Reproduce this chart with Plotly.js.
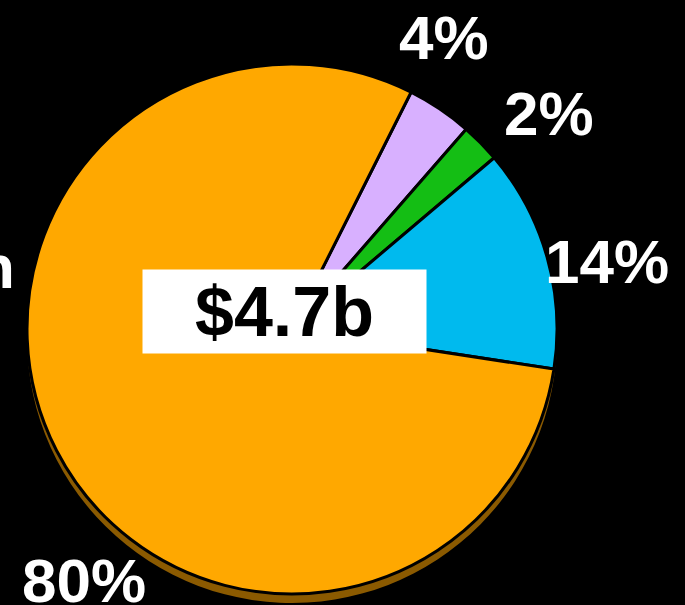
<!DOCTYPE html>
<html>
<head>
<meta charset="utf-8">
<script src="https://cdn.plot.ly/plotly-3.0.1.min.js"></script>
<style>
  html, body { margin: 0; padding: 0; background: #000; }
  #chart { width: 685px; height: 605px; }
</style>
</head>
<body>
<div id="chart"></div>
<script>
// Data (clockwise from the top-right boundary)
const categories = ["Lavender share", "Green share", "Blue share", "Orange share"];
const shareValues = [4, 2.4, 13.6, 80];
const percentLabels = ["4%", "2%", "14%", "80%"];
const sliceColors = ["#D8B0FF", "#14BE14", "#00BAEE", "#FFA800"];
const totalLabel = "$4.7b";
const cutLabel = "n";

const W = 685, H = 605;
const cx = 292, cy = 329, r = 265, shadowDy = 9;

function dom(cxp, cyp, rad) {
  return {
    x: [(cxp - rad) / W, (cxp + rad) / W],
    y: [1 - (cyp + rad) / H, 1 - (cyp - rad) / H]
  };
}

const shadow = {
  type: "pie",
  labels: categories,
  values: shareValues,
  sort: false,
  direction: "clockwise",
  rotation: 26.7,
  domain: dom(cx, cy + shadowDy, r),
  marker: { colors: categories.map(() => "#8B5A00"), line: { width: 0 } },
  textinfo: "none",
  hoverinfo: "skip",
  showlegend: false
};

const pie = {
  type: "pie",
  labels: categories,
  values: shareValues,
  sort: false,
  direction: "clockwise",
  rotation: 26.7,
  domain: dom(cx, cy, r),
  marker: { colors: sliceColors, line: { color: "#000", width: 3 } },
  textinfo: "none",
  hoverinfo: "skip",
  showlegend: false
};

const labelFont = { family: "Liberation Sans, Arial, sans-serif", size: 62, color: "#fff", weight: "bold" };
const labelPos = [[444, 37], [549, 114], [607, 261], [84, 580]];

const annotations = percentLabels.map((t, i) => ({
  text: "<b>" + t + "</b>",
  xref: "paper", yref: "paper",
  x: labelPos[i][0] / W, y: 1 - labelPos[i][1] / H,
  xanchor: "center", yanchor: "middle",
  showarrow: false,
  font: labelFont
}));

annotations.push({
  text: "<b>" + cutLabel + "</b>",
  xref: "paper", yref: "paper",
  x: 17 / W, y: 1 - 266 / H,
  xanchor: "right", yanchor: "middle",
  showarrow: false,
  font: labelFont
});

annotations.push({
  text: "<b>" + totalLabel + "</b>",
  xref: "paper", yref: "paper",
  x: 284.5 / W, y: 1 - 311.5 / H,
  xanchor: "center", yanchor: "middle",
  width: 283, height: 83,
  bgcolor: "#fff",
  borderpad: 0,
  showarrow: false,
  font: { family: "Liberation Sans, Arial, sans-serif", size: 70, color: "#000" }
});

const layout = {
  width: W, height: H,
  margin: { l: 0, r: 0, t: 0, b: 0 },
  paper_bgcolor: "#000",
  plot_bgcolor: "#000",
  showlegend: false,
  annotations: annotations
};

Plotly.newPlot("chart", [shadow, pie], layout, { displayModeBar: false, staticPlot: true });
</script>
</body>
</html>
